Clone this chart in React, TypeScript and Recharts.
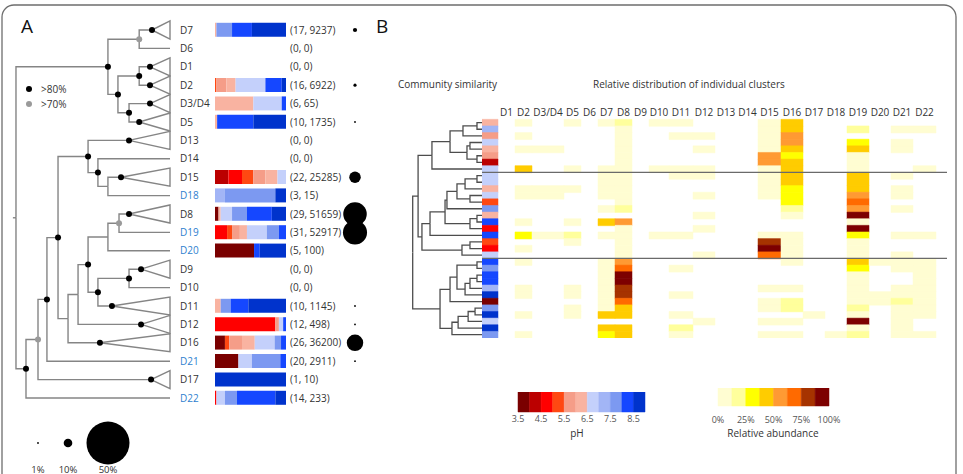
import React from 'react'
import {
  BarChart, Bar, Cell, XAxis, YAxis, ScatterChart, Scatter, ReferenceLine,
} from 'recharts'

const FONT = "'Open Sans', 'DejaVu Sans', sans-serif"
const TEXT = '#333333'
const NOVEL_BLUE = '#2f7fcf'
const TREE_GRAY = '#858585'
const DENDRO_GRAY = '#4d4d4d'

// ---------------- panel A: clusters ----------------
const clusters = ['D7', 'D6', 'D1', 'D2', 'D3/D4', 'D5', 'D13', 'D14', 'D15', 'D18', 'D8', 'D19', 'D20', 'D9', 'D10', 'D11', 'D12', 'D16', 'D21', 'D17', 'D22']
const novelClusters = ['D18', 'D19', 'D20', 'D21', 'D22']
const otuCounts = [17, 0, 0, 16, 6, 10, 0, 0, 22, 3, 29, 31, 5, 0, 0, 10, 12, 26, 20, 1, 14]
const readCounts = [9237, 0, 0, 6922, 65, 1735, 0, 0, 25285, 15, 51659, 52917, 100, 0, 0, 1145, 498, 36200, 2911, 10, 233]

// pH classes, 0.5 units wide
const phEdges = [3.5, 4, 4.5, 5, 5.5, 6, 6.5, 7, 7.5, 8, 8.5, 9]
const phColors = ['#7a0000', '#bb0000', '#ff0000', '#ff4812', '#f59d88', '#f9b3a1', '#c4d0fb', '#a2b5f6', '#7c99f1', '#1547ff', '#0033cc']
const phTicks = [3.5, 4.5, 5.5, 6.5, 7.5, 8.5]

// % of each cluster's reads per pH class
const phShares = [
  [0, 0, 0, 0, 0, 2, 0, 0, 22, 28, 48], // D7
  [0, 0, 0, 0, 0, 0, 0, 0, 0, 0, 0], // D6
  [0, 0, 0, 0, 0, 0, 0, 0, 0, 0, 0], // D1
  [0, 0, 0, 2, 14, 13, 42, 0, 0, 23, 6], // D2
  [0, 0, 0, 0, 0, 54, 40, 0, 0, 6, 0], // D3/D4
  [0, 0, 0, 0, 0, 3, 0, 0, 0, 51, 46], // D5
  [0, 0, 0, 0, 0, 0, 0, 0, 0, 0, 0], // D13
  [0, 0, 0, 0, 0, 0, 0, 0, 0, 0, 0], // D14
  [0, 19, 19, 16, 17, 17, 12, 0, 0, 0, 0], // D15
  [0, 0, 0, 0, 0, 0, 0, 14, 71, 0, 15], // D18
  [5, 0, 0, 0, 0, 3, 16, 0, 21, 35, 20], // D8
  [0, 0, 17, 7, 11, 10, 28, 0, 17, 10, 0], // D19
  [55, 0, 0, 0, 0, 0, 0, 0, 0, 8, 37], // D20
  [0, 0, 0, 0, 0, 0, 0, 0, 0, 0, 0], // D9
  [0, 0, 0, 0, 0, 0, 0, 0, 0, 0, 0], // D10
  [0, 0, 0, 0, 0, 8, 0, 0, 14, 25, 53], // D11
  [0, 0, 85, 0, 5, 0, 6, 0, 0, 4, 0], // D12
  [14, 0, 0, 6, 18, 18, 28, 0, 9, 7, 0], // D16
  [33, 0, 0, 0, 0, 0, 19, 0, 40, 8, 0], // D21
  [0, 0, 0, 0, 0, 0, 0, 0, 0, 0, 100], // D17
  [0, 0, 2, 0, 0, 0, 12, 0, 17, 54, 15], // D22
]

const bubbleLegend = [1, 10, 50]

// ---------------- panel B: samples ----------------
const heatColumns = ['D1', 'D2', 'D3/D4', 'D5', 'D6', 'D7', 'D8', 'D9', 'D10', 'D11', 'D12', 'D13', 'D14', 'D15', 'D16', 'D17', 'D18', 'D19', 'D20', 'D21', 'D22']

const samplePh = [6.2, 7.3, 5.7, 6.7, 6.3, 5.8, 4.2, 6.8, 6.7, 6.9, 6.2, 6.6, 5.3, 7.9, 6.3, 8.3, 4.7, 8.4, 5.2, 4.6, 6.8, 8.2, 7.8, 8.3, 8.2, 7.4, 8.7, 3.8, 7.7, 8.8, 6.9, 8.7, 7.9]

// relative abundance (%) of each cluster per sample, columns as heatColumns
const abundanceRows = [
  [0, 5, 0, 5, 0, 5, 18, 0, 5, 5, 0, 0, 0, 10, 45, 0, 0, 0, 0, 0, 0],
  [0, 0, 0, 0, 0, 0, 5, 0, 0, 0, 0, 0, 0, 10, 45, 0, 0, 18, 0, 5, 5],
  [0, 5, 0, 0, 0, 0, 5, 0, 0, 5, 5, 0, 0, 10, 55, 0, 0, 0, 0, 0, 0],
  [0, 0, 0, 0, 0, 0, 5, 0, 0, 0, 0, 0, 0, 10, 55, 0, 0, 30, 0, 5, 0],
  [0, 5, 5, 0, 0, 0, 5, 0, 0, 0, 5, 0, 0, 10, 45, 0, 0, 45, 0, 5, 0],
  [0, 0, 0, 0, 0, 0, 5, 0, 0, 0, 0, 0, 0, 55, 30, 0, 0, 5, 0, 0, 0],
  [0, 0, 0, 0, 0, 0, 5, 0, 0, 0, 0, 0, 0, 55, 45, 0, 0, 5, 0, 0, 0],
  [0, 45, 0, 5, 0, 5, 5, 0, 5, 5, 5, 0, 0, 5, 45, 0, 0, 5, 0, 0, 5],
  [0, 0, 0, 0, 0, 5, 5, 0, 0, 5, 5, 0, 0, 5, 45, 0, 0, 45, 0, 5, 0],
  [0, 0, 0, 0, 0, 5, 5, 0, 0, 0, 0, 0, 0, 5, 45, 0, 0, 45, 0, 0, 0],
  [0, 5, 5, 5, 0, 5, 5, 0, 0, 0, 0, 0, 0, 5, 30, 0, 0, 45, 0, 5, 0],
  [0, 5, 5, 0, 0, 5, 5, 0, 0, 0, 5, 0, 0, 5, 30, 0, 0, 55, 0, 5, 0],
  [0, 0, 0, 0, 0, 0, 5, 0, 0, 0, 0, 0, 0, 0, 30, 0, 0, 70, 0, 0, 0],
  [0, 0, 0, 0, 0, 5, 18, 0, 0, 0, 0, 0, 0, 0, 18, 0, 0, 55, 0, 5, 0],
  [0, 0, 0, 0, 0, 0, 0, 0, 0, 0, 5, 0, 0, 0, 5, 0, 0, 95, 0, 0, 0],
  [0, 5, 0, 5, 0, 45, 55, 0, 0, 0, 0, 0, 0, 0, 0, 0, 0, 5, 0, 0, 0],
  [0, 0, 0, 0, 0, 0, 5, 0, 0, 0, 5, 0, 0, 0, 0, 0, 0, 95, 0, 0, 0],
  [0, 30, 5, 18, 0, 5, 5, 0, 5, 5, 0, 0, 0, 5, 5, 0, 0, 30, 0, 5, 5],
  [0, 0, 0, 5, 0, 0, 5, 0, 0, 0, 0, 0, 0, 80, 5, 0, 0, 5, 0, 0, 0],
  [0, 5, 0, 0, 0, 0, 5, 0, 0, 0, 0, 0, 0, 95, 5, 0, 0, 5, 0, 0, 0],
  [0, 0, 0, 0, 0, 0, 5, 0, 0, 0, 5, 0, 0, 70, 5, 0, 0, 5, 0, 5, 0],
  [0, 5, 0, 0, 0, 5, 55, 0, 0, 0, 0, 0, 0, 0, 5, 0, 0, 45, 5, 5, 5],
  [0, 0, 0, 0, 0, 5, 70, 0, 0, 5, 0, 0, 0, 0, 0, 0, 0, 30, 0, 5, 5],
  [0, 0, 0, 0, 0, 5, 95, 0, 0, 0, 0, 0, 0, 0, 0, 0, 0, 5, 0, 0, 5],
  [0, 0, 0, 0, 0, 5, 95, 0, 0, 0, 0, 0, 0, 0, 0, 0, 0, 5, 0, 0, 5],
  [0, 5, 0, 5, 0, 5, 80, 0, 0, 0, 0, 0, 0, 5, 5, 0, 0, 5, 0, 5, 5],
  [0, 5, 0, 5, 0, 5, 80, 0, 0, 5, 0, 0, 0, 0, 0, 0, 0, 5, 5, 5, 5],
  [0, 0, 0, 0, 0, 5, 70, 0, 0, 0, 0, 0, 0, 5, 18, 0, 0, 5, 5, 18, 5],
  [0, 0, 0, 5, 0, 5, 45, 0, 0, 0, 0, 0, 0, 5, 18, 0, 0, 18, 0, 5, 5],
  [0, 5, 0, 5, 0, 45, 45, 0, 0, 5, 0, 0, 0, 0, 0, 5, 0, 5, 0, 5, 5],
  [0, 0, 0, 0, 0, 0, 0, 0, 0, 0, 5, 0, 0, 5, 5, 0, 0, 95, 0, 5, 0],
  [0, 0, 0, 0, 0, 45, 45, 0, 0, 18, 0, 0, 0, 0, 0, 0, 0, 5, 0, 5, 0],
  [0, 5, 0, 0, 0, 30, 45, 0, 0, 5, 0, 0, 0, 5, 5, 0, 5, 18, 0, 5, 5],
]
// sample groups are split before these rows
const groupBreaks = [8, 21]

const abundanceEdges = [0, 12.5, 25, 37.5, 50, 62.5, 75, 87.5, 100]
const abundanceColors = ['#fffdd2', '#ffff9c', '#ffff00', '#ffcc00', '#ff9a33', '#ff6a00', '#a63300', '#7d0000']
const abundanceTicks = [0, 25, 50, 75, 100]

// ---------------- trees ----------------
type Support = 'strong' | 'weak'
type TreeNode = { depth?: number; support?: Support; leaf?: string | number; collapsed?: boolean; children?: TreeNode[] }

const tip = (leaf: string | number): TreeNode => ({ leaf })
const clade = (leaf: string, depth: number, support: Support = 'strong'): TreeNode => ({ leaf, depth, support, collapsed: true })
const node = (depth: number, support: Support | undefined, ...children: TreeNode[]): TreeNode => ({ depth, support, children })

const clusterTree = node(0, undefined,
  node(0.597, 'strong',
    node(0.8, 'weak', clade('D7', 0.883), tip('D6')),
    node(0.662, 'strong',
      node(0.8, 'strong', clade('D1', 0.87), clade('D2', 0.87)),
      node(0.734, 'strong', clade('D3/D4', 0.87), clade('D5', 0.8)))),
  node(0.065, 'strong',
    node(0.143, 'weak',
      node(0.201, 'strong',
        node(0.273, 'strong',
          node(0.468, 'strong',
            clade('D13', 0.734),
            node(0.532, 'strong',
              tip('D14'),
              node(0.597, undefined, clade('D15', 0.682), tip('D18')))),
          node(0.338, undefined,
            node(0.403, undefined,
              node(0.468, 'strong',
                node(0.597, undefined,
                  node(0.669, 'weak', clade('D8', 0.734), tip('D19')),
                  tip('D20')),
                node(0.532, 'strong',
                  node(0.734, 'strong', clade('D9', 0.812), tip('D10')),
                  clade('D11', 0.623))),
              clade('D12', 0.812)),
            clade('D16', 0.545))),
        tip('D21')),
      clade('D17', 0.877)),
    tip('D22')))

// sample dendrogram, merge heights (0 = leaves)
const sampleTree = node(0.9, undefined,
  node(0.83, undefined,
    node(0.65, undefined,
      node(0.415, undefined,
        node(0.247, undefined, node(0.065, undefined, tip(0), tip(1)), tip(2)),
        node(0.195, undefined, node(0.156, undefined, tip(3), tip(4)), node(0.065, undefined, tip(5), tip(6)))),
      tip(7)),
    node(0.78, undefined,
      node(0.675, undefined,
        node(0.48, undefined,
          node(0.455, undefined,
            node(0.325, undefined,
              node(0.22, undefined, node(0.065, undefined, tip(8), tip(9)), tip(10)),
              node(0.156, undefined, tip(11), tip(12))),
            tip(13)),
          node(0.156, undefined, node(0.065, undefined, tip(14), tip(15)), tip(16))),
        tip(17)),
      node(0.26, undefined, node(0.156, undefined, tip(18), tip(19)), tip(20)))),
  node(0.545, undefined,
    node(0.415, undefined,
      node(0.325, undefined,
        node(0.065, undefined, tip(21), tip(22)),
        node(0.22, undefined, node(0.156, undefined, node(0.065, undefined, tip(23), tip(24)), tip(25)), tip(26))),
      tip(27)),
    node(0.39, undefined,
      node(0.31, undefined,
        node(0.18, undefined, node(0.09, undefined, tip(28), tip(29)), tip(30)),
        tip(31)),
      tip(32))))

type Pt = { x: number; y: number }
interface TreeGeom { edges: Pt[][]; triangles: Pt[][]; strong: Pt[]; weak: Pt[]; root: Pt }

// elbow layout: leaves on rows, internal nodes centred on their children
function layoutTree(root: TreeNode, order: (string | number)[], tipDepth: number, halfSpan: number): TreeGeom {
  const g: TreeGeom = { edges: [], triangles: [], strong: [], weak: [], root: { x: 0, y: 0 } }
  const walk = (n: TreeNode): Pt => {
    if (n.leaf !== undefined) {
      const y = order.indexOf(n.leaf)
      if (!n.collapsed) return { x: tipDepth, y }
      const x = n.depth as number
      g.triangles.push([{ x, y }, { x: tipDepth, y: y - halfSpan }, { x: tipDepth, y: y + halfSpan }, { x, y }])
      if (n.support) g[n.support].push({ x, y })
      return { x, y }
    }
    const kids = (n.children || []).map(walk)
    const ys = kids.map((k) => k.y)
    const y = (Math.min(...ys) + Math.max(...ys)) / 2
    const x = n.depth as number
    kids.forEach((k) => g.edges.push([{ x, y }, { x, y: k.y }, { x: k.x, y: k.y }]))
    if (n.support) g[n.support].push({ x, y })
    return { x, y }
  }
  g.root = walk(root)
  return g
}

const clusterGeom = layoutTree(clusterTree, clusters, 1, 0.49)
clusterGeom.edges.push([{ x: -0.02, y: clusterGeom.root.y }, { x: 0, y: clusterGeom.root.y }])
const sampleGeom = layoutTree(sampleTree, samplePh.map((_, i) => i), 0, 0.5)

// ---------------- helpers ----------------
const binIndex = (v: number, edges: number[]) => {
  for (let i = 0; i < edges.length - 2; i++) if (v < edges[i + 1]) return i
  return edges.length - 2
}
const phColor = (p: number) => phColors[binIndex(p, phEdges)]
const heatColor = (v: number) => (v <= 0 ? 'transparent' : abundanceColors[binIndex(v, abundanceEdges)])

const totalReads = readCounts.reduce((a, b) => a + b, 0)
const bubbleRadius = (pct: number) => (pct < 0.2 ? 0 : Math.max(0.43 * pct, 0.9))

const clusterRows = clusters.map((name, i) => {
  const row: Record<string, number | string> = { name }
  phShares[i].forEach((v, k) => { row[`b${k}`] = v })
  return row
})

// heatmap column widths (px); D3/D4 and the two-digit labels get wider cells
const PH_COL_W = 16
const colWidths = [17, 17, 32, 17, 17, 17, 17, 17, 20, 24, 22, 22, 21, 23, 22, 22, 22, 22, 22, 22, 23]
const HEAT_SPAN = 465
const colCenters: number[] = []
colWidths.reduce((start, w) => { colCenters.push(start + w / 2); return start + w }, PH_COL_W)

const heatRows = abundanceRows.map((_, i) => {
  const row: Record<string, number | string> = { row: String(i), ph: PH_COL_W }
  colWidths.forEach((w, j) => { row[`c${j}`] = w })
  return row
})

// ---------------- small renderers ----------------
const NoMarker = () => null
const StrongDot = (p: any) => <circle cx={p.cx} cy={p.cy} r={3} fill="#000" />
const WeakDot = (p: any) => <circle cx={p.cx} cy={p.cy} r={3} fill="#9a9a9a" />

const NAME_X = 180
const COUNT_X = 290
const BUBBLE_X = 355

const NameTick = (p: any) => {
  const name = String(p.payload.value)
  return (
    <text x={NAME_X} y={p.y} dy={3.6} fontSize={10} fill={novelClusters.includes(name) ? NOVEL_BLUE : TEXT}>
      {name}
    </text>
  )
}

const CountTick = (p: any) => {
  const i = clusters.indexOf(String(p.payload.value))
  const r = bubbleRadius((readCounts[i] / totalReads) * 100)
  return (
    <g>
      <text x={COUNT_X} y={p.y} dy={3.6} fontSize={10} fill={TEXT}>{`(${otuCounts[i]}, ${readCounts[i]})`}</text>
      {r > 0 && <circle cx={BUBBLE_X} cy={p.y} r={r} fill="#000" />}
    </g>
  )
}

interface ColorBarProps {
  left: number; top: number; width: number; barHeight: number
  edges: number[]; colors: string[]; ticks: number[]; format: (v: number) => string; gap: number
}

// one stacked row of class widths, with the axis shifted to the first edge
function ColorBar({ left, top, width, barHeight, edges, colors, ticks, format, gap }: ColorBarProps) {
  const pad = 16
  const lo = edges[0]
  const row: Record<string, number | string> = { bar: 'scale' }
  colors.forEach((_, i) => { row[`s${i}`] = edges[i + 1] - edges[i] })
  return (
    <div style={{ position: 'absolute', left: left - pad, top }}>
      <BarChart layout="vertical" width={width + 2 * pad} height={barHeight + 26} data={[row]} barCategoryGap={0}
        margin={{ top: 0, right: pad, bottom: 0, left: pad }}>
        <XAxis type="number" domain={[0, edges[edges.length - 1] - lo]} ticks={ticks.map((t) => t - lo)}
          tickFormatter={(v: number) => format(v + lo)} interval={0} axisLine={false} tickLine={false}
          tickSize={0} tickMargin={gap} height={26} tick={{ fontSize: 9, fill: '#555' }} />
        <YAxis type="category" dataKey="bar" hide />
        {colors.map((c, i) => (
          <Bar key={i} dataKey={`s${i}`} stackId="s" fill={c} stroke={c} strokeWidth={0.5} isAnimationActive={false} />
        ))}
      </BarChart>
    </div>
  )
}

const bubbleLegendX = [38, 68, 108]

export default function App() {
  return (
    <div style={{ position: 'relative', width: 963, height: 474, overflow: 'hidden', background: '#fff', fontFamily: FONT }}>
      <style>{'body{margin:0}'}</style>

      <svg width={963} height={474} style={{ position: 'absolute', left: 0, top: 0 }}>
        <rect x={2} y={5} width={954} height={490} rx={12} fill="none" stroke="#6e6e6e" strokeWidth={1.3} />
        <text x={21} y={33} fontSize={19} fill="#111">A</text>
        <text x={376} y={33} fontSize={19} fill="#111">B</text>

        <circle cx={29} cy={89} r={3} fill="#000" />
        <text x={41} y={92.5} fontSize={10} fill={TEXT}>&gt;80%</text>
        <circle cx={29} cy={104} r={3} fill="#9a9a9a" />
        <text x={41} y={107.5} fontSize={10} fill={TEXT}>&gt;70%</text>

        {bubbleLegend.map((pct, i) => (
          <g key={pct}>
            <circle cx={bubbleLegendX[i]} cy={443} r={bubbleRadius(pct)} fill="#000" />
            <text x={bubbleLegendX[i]} y={472.5} fontSize={9.5} fill={TEXT} textAnchor="middle">{`${pct}%`}</text>
          </g>
        ))}

        <text x={398} y={87.5} fontSize={10} fill={TEXT}>Community similarity</text>
        <text x={593} y={87.5} fontSize={10} fill={TEXT}>Relative distribution of individual clusters</text>
        <text x={577} y={437} fontSize={10} fill={TEXT} textAnchor="middle">pH</text>
        <text x={773} y={437} fontSize={10} fill={TEXT} textAnchor="middle">Relative abundance</text>
      </svg>

      {/* panel A: cluster tree */}
      <div style={{ position: 'absolute', left: 0, top: 0 }}>
        <ScatterChart width={180} height={420} margin={{ top: 20.8, right: 10, bottom: 12.8, left: 12.9 }}>
          <XAxis type="number" dataKey="x" domain={[-0.02, 1]} hide />
          <YAxis type="number" dataKey="y" domain={[-0.5, 20.5]} reversed hide />
          {clusterGeom.edges.map((pts, i) => (
            <Scatter key={`e${i}`} data={pts} line={{ stroke: TREE_GRAY, strokeWidth: 1.4 }} shape={<NoMarker />} isAnimationActive={false} />
          ))}
          {clusterGeom.triangles.map((pts, i) => (
            <Scatter key={`t${i}`} data={pts} line={{ stroke: TREE_GRAY, strokeWidth: 1.4 }} shape={<NoMarker />} isAnimationActive={false} />
          ))}
          <Scatter data={clusterGeom.strong} shape={<StrongDot />} isAnimationActive={false} />
          <Scatter data={clusterGeom.weak} shape={<WeakDot />} isAnimationActive={false} />
        </ScatterChart>
      </div>

      {/* panel A: pH composition bars, counts and read share bubbles */}
      <div style={{ position: 'absolute', left: 0, top: 0 }}>
        <BarChart layout="vertical" width={400} height={420} data={clusterRows} barSize={14}
          margin={{ top: 20.8, right: 14, bottom: 12.8, left: 175 }}>
          <XAxis type="number" domain={[0, 100]} hide />
          <YAxis yAxisId="names" type="category" dataKey="name" width={40} axisLine={false} tickLine={false} interval={0} tick={<NameTick />} />
          <YAxis yAxisId="counts" orientation="right" type="category" dataKey="name" width={100} axisLine={false} tickLine={false} interval={0} tick={<CountTick />} />
          {phColors.map((c, k) => (
            <Bar key={k} yAxisId="names" dataKey={`b${k}`} stackId="ph" fill={c} isAnimationActive={false} />
          ))}
        </BarChart>
      </div>

      {/* panel B: sample dendrogram */}
      <div style={{ position: 'absolute', left: 400, top: 110 }}>
        <ScatterChart width={87} height={240} margin={{ top: 9.3, right: 5, bottom: 12, left: 5 }}>
          <XAxis type="number" dataKey="x" domain={[0, 1]} reversed hide />
          <YAxis type="number" dataKey="y" domain={[-0.5, 32.5]} reversed hide />
          {sampleGeom.edges.map((pts, i) => (
            <Scatter key={`s${i}`} data={pts} line={{ stroke: DENDRO_GRAY, strokeWidth: 1.3 }} shape={<NoMarker />} isAnimationActive={false} />
          ))}
        </ScatterChart>
      </div>

      {/* panel B: pH strip and abundance heatmap */}
      <div style={{ position: 'absolute', left: 482, top: 100 }}>
        <BarChart layout="vertical" width={HEAT_SPAN} height={238} data={heatRows} barCategoryGap={0} barGap={0}
          margin={{ top: 0, right: 0, bottom: 0, left: 0 }}>
          <XAxis type="number" orientation="top" domain={[0, HEAT_SPAN]} ticks={colCenters} interval={0}
            tickFormatter={(v: number) => heatColumns[colCenters.indexOf(v)] ?? ''}
            axisLine={false} tickLine={false} tickSize={0} tickMargin={3} height={19.3}
            tick={{ fontSize: 10, fill: TEXT }} />
          <YAxis type="category" dataKey="row" hide />
          <Bar dataKey="ph" stackId="h" isAnimationActive={false}>
            {samplePh.map((p, i) => <Cell key={i} fill={phColor(p)} stroke={phColor(p)} strokeWidth={0.5} />)}
          </Bar>
          {heatColumns.map((c, j) => (
            <Bar key={c} dataKey={`c${j}`} stackId="h" isAnimationActive={false}>
              {abundanceRows.map((r, i) => {
                const f = heatColor(r[j])
                return <Cell key={i} fill={f} stroke={f === 'transparent' ? 'none' : f} strokeWidth={0.5} />
              })}
            </Bar>
          ))}
          {groupBreaks.map((b) => (
            <ReferenceLine key={b} y={String(b)} position="start" stroke="#6a6a6a" strokeWidth={1.2} />
          ))}
        </BarChart>
      </div>

      <ColorBar left={518} top={392} width={127} barHeight={20} edges={phEdges} colors={phColors}
        ticks={phTicks} format={(v) => v.toFixed(1)} gap={4} />
      <ColorBar left={718} top={388} width={111} barHeight={18} edges={abundanceEdges} colors={abundanceColors}
        ticks={abundanceTicks} format={(v) => `${v}%`} gap={11} />
    </div>
  )
}
